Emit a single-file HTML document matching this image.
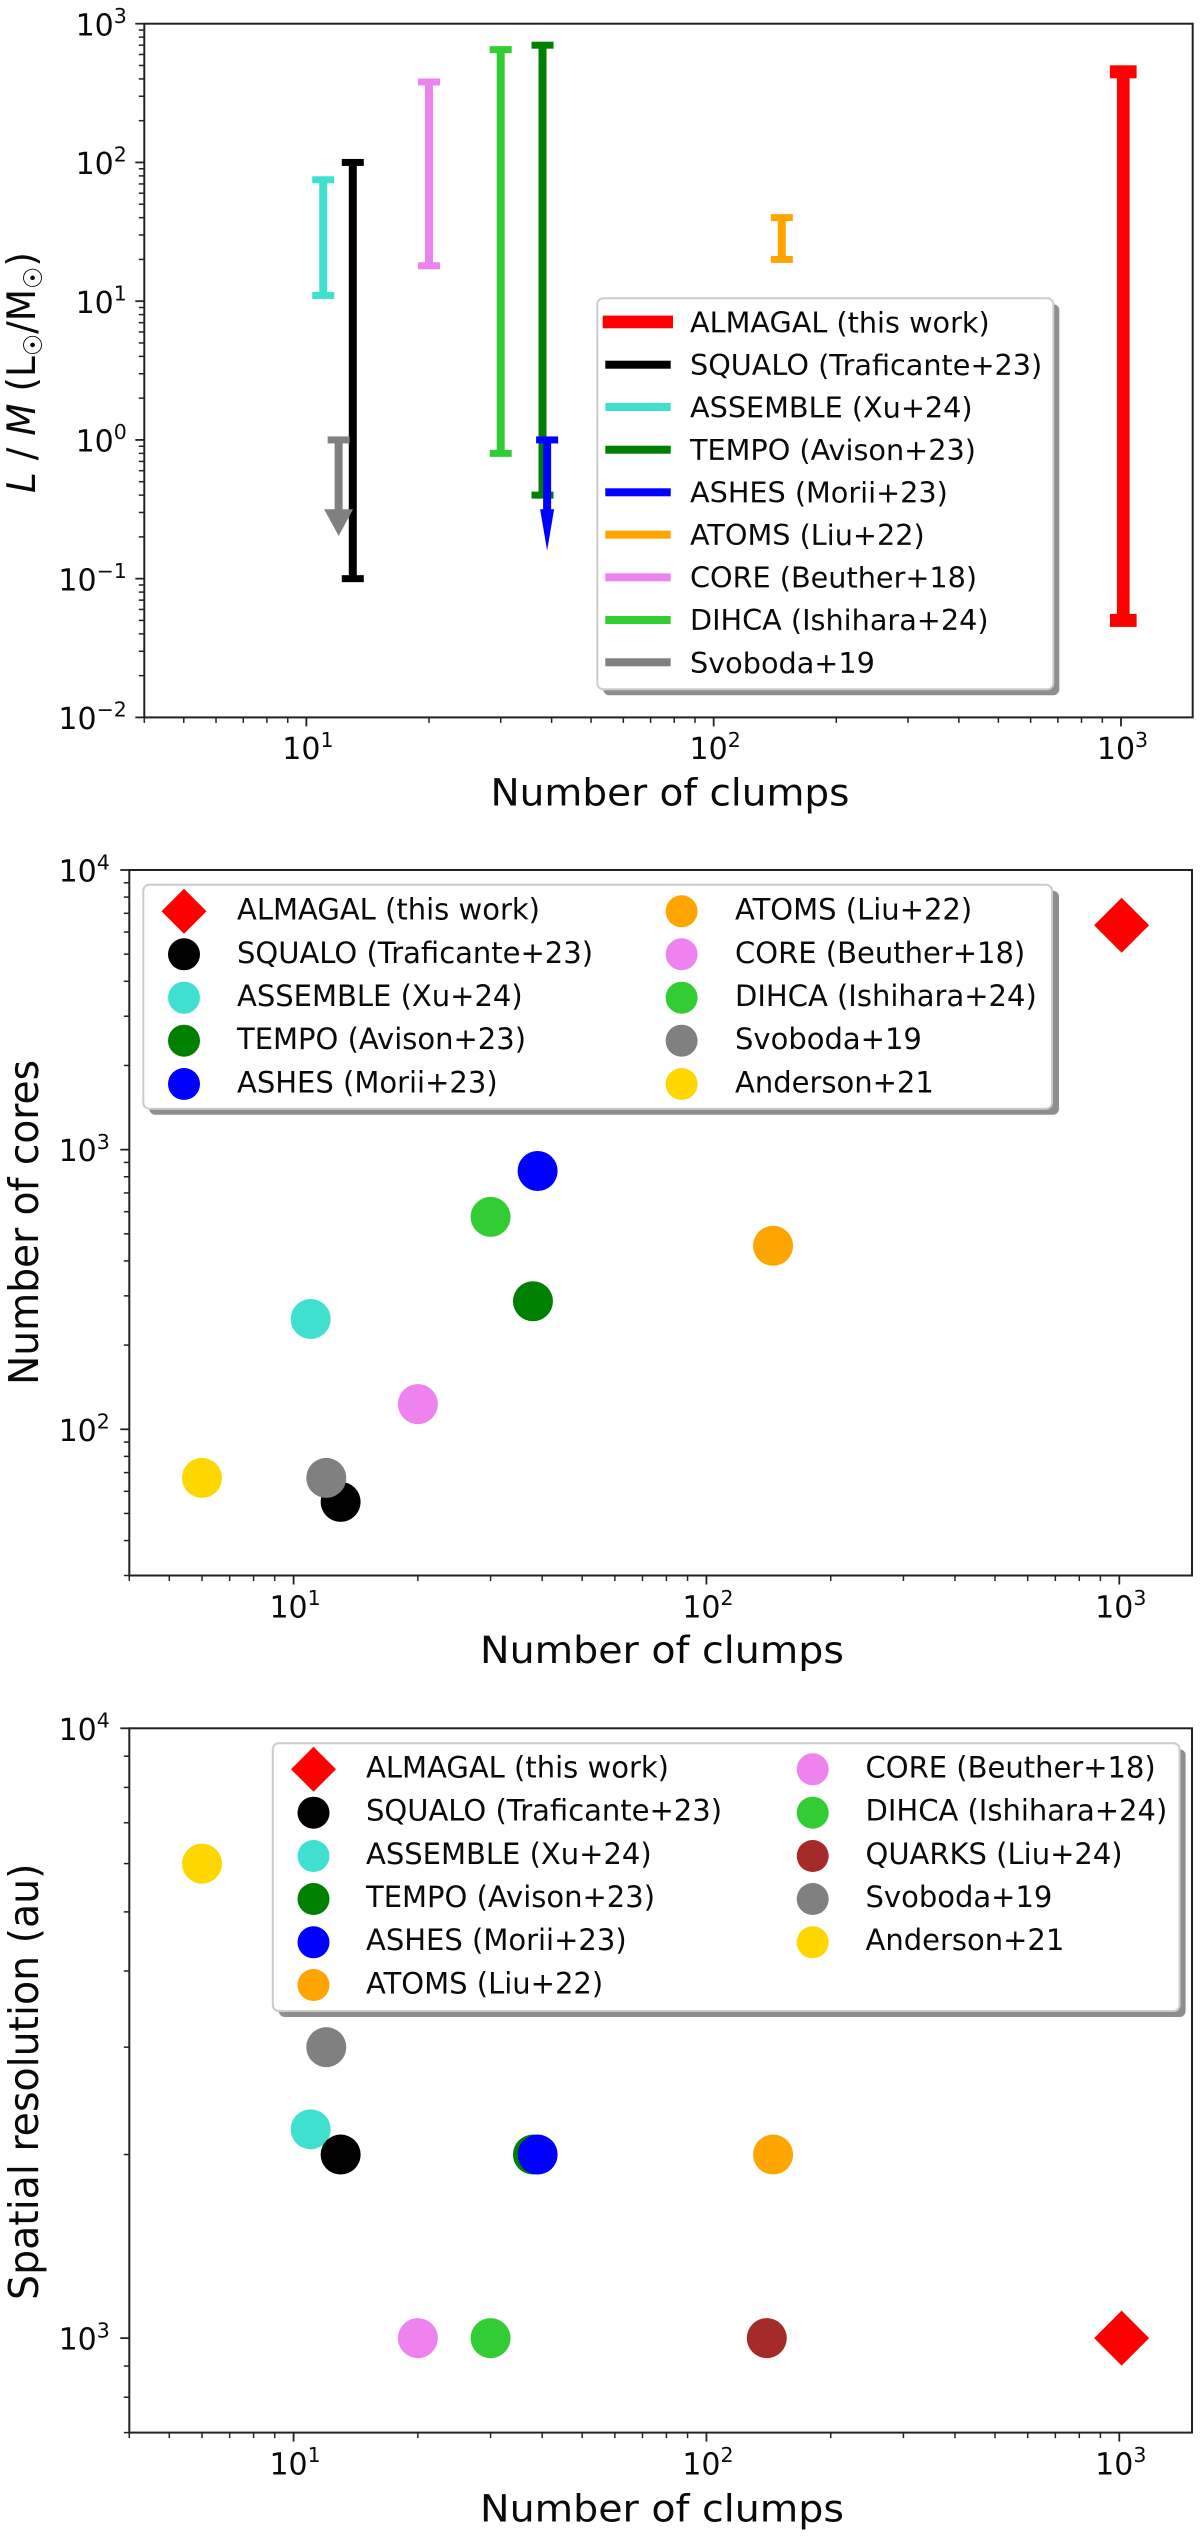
<!DOCTYPE html>
<html lang="en">
<head>
<meta charset="utf-8">
<title>Survey comparison: L/M, number of cores and spatial resolution against number of clumps</title>
<style>
  html, body { margin: 0; padding: 0; background: #ffffff; }
  body { width: 1200px; height: 2538px; overflow: hidden; }
  svg { display: block; filter: blur(0.35px); }
  text { font-family: "DejaVu Sans", "Liberation Sans", sans-serif; fill: #0a0a0a; }
  .lg { font-size: 29px; }
  .frame { fill: none; stroke: #222222; stroke-width: 2; }
  .lg-box { fill: #ffffff; stroke: #cccccc; stroke-width: 2; }
  .lg-shadow { fill: #8e8e8e; }
</style>
</head>
<body>
<svg id="figure" xmlns="http://www.w3.org/2000/svg" width="1200" height="2538" viewBox="0 0 1200 2538">
  <rect x="0" y="0" width="1200" height="2538" fill="#ffffff"/>

  <!-- Panel 1 -->
  <g id="panel-1">
    <g id="p1-axes"></g>
    <g id="p1-marks"></g>
    <rect class="frame" x="144.3" y="23.7" width="1048.4" height="693.7"/>
    <text x="670" y="805.5" font-size="37" text-anchor="middle" textLength="359" lengthAdjust="spacingAndGlyphs">Number of clumps</text>
    <text transform="translate(35 372.5) rotate(-90)" font-size="39" text-anchor="middle" textLength="241" lengthAdjust="spacingAndGlyphs"><tspan font-style="italic">L</tspan> / <tspan font-style="italic">M</tspan> (L<tspan font-size="26" dy="7">☉</tspan><tspan dy="-7">/M</tspan><tspan font-size="26" dy="7">☉</tspan><tspan dy="-7">)</tspan></text>
    <g>
      <rect class="lg-shadow" x="603.3" y="304.3" width="456" height="391" rx="6"/>
      <rect class="lg-box" x="597.3" y="298.3" width="456" height="391" rx="6"/>
      <rect x="602.7" y="315.6" width="70.3" height="12.7" fill="#ff0000"/>
      <rect x="605.3" y="360.7" width="65.4" height="8" fill="#000000"/>
      <rect x="605.3" y="403" width="65.4" height="8" fill="#40e0d0"/>
      <rect x="605.3" y="445.7" width="65.4" height="8" fill="#008000"/>
      <rect x="605.3" y="488.3" width="65.4" height="8" fill="#0000ff"/>
      <rect x="605.3" y="530.7" width="65.4" height="8" fill="#ffa500"/>
      <rect x="605.3" y="573.3" width="65.4" height="8" fill="#ee82ee"/>
      <rect x="605.3" y="616" width="65.4" height="8" fill="#32cd32"/>
      <rect x="605.3" y="658.3" width="65.4" height="8" fill="#808080"/>
      <text class="lg" style="font-size:28.7px" x="690" y="332.3">ALMAGAL (this work)</text>
      <text class="lg" style="font-size:28.7px" x="690" y="374.8">SQUALO (Traficante+23)</text>
      <text class="lg" style="font-size:28.7px" x="690" y="417.3">ASSEMBLE (Xu+24)</text>
      <text class="lg" style="font-size:28.7px" x="690" y="459.8">TEMPO (Avison+23)</text>
      <text class="lg" style="font-size:28.7px" x="690" y="502.3">ASHES (Morii+23)</text>
      <text class="lg" style="font-size:28.7px" x="690" y="544.8">ATOMS (Liu+22)</text>
      <text class="lg" style="font-size:28.7px" x="690" y="587.3">CORE (Beuther+18)</text>
      <text class="lg" style="font-size:28.7px" x="690" y="629.8">DIHCA (Ishihara+24)</text>
      <text class="lg" style="font-size:28.7px" x="690" y="672.8">Svoboda+19</text>
    </g>
  </g>

  <!-- Panel 2 -->
  <g id="panel-2">
    <g id="p2-axes"></g>
    <g id="p2-marks"></g>
    <rect class="frame" x="129.3" y="870" width="1062.7" height="705.5"/>
    <text x="662" y="1663" font-size="37" text-anchor="middle" textLength="364" lengthAdjust="spacingAndGlyphs">Number of clumps</text>
    <text transform="translate(38 1222.5) rotate(-90)" font-size="41" text-anchor="middle" textLength="325" lengthAdjust="spacingAndGlyphs">Number of cores</text>
    <g>
      <rect class="lg-shadow" x="149.3" y="890.7" width="909.7" height="224" rx="6"/>
      <rect class="lg-box" x="143.3" y="884.7" width="908.7" height="224" rx="6"/>
      <polygon points="184,888.8 206.5,911.3 184,933.8 161.5,911.3" fill="#ff0000"/>
      <circle cx="184" cy="954.3" r="16" fill="#000000"/>
      <circle cx="184" cy="997.7" r="16" fill="#40e0d0"/>
      <circle cx="184" cy="1040.7" r="16" fill="#008000"/>
      <circle cx="184" cy="1084" r="16" fill="#0000ff"/>
      <circle cx="681.6" cy="911.3" r="16" fill="#ffa500"/>
      <circle cx="681.6" cy="954.3" r="16" fill="#ee82ee"/>
      <circle cx="681.6" cy="997.7" r="16" fill="#32cd32"/>
      <circle cx="681.6" cy="1040.7" r="16" fill="#808080"/>
      <circle cx="681.6" cy="1084" r="16" fill="#ffd700"/>
      <text class="lg" x="237" y="919.6">ALMAGAL (this work)</text>
      <text class="lg" x="237" y="962.8">SQUALO (Traficante+23)</text>
      <text class="lg" x="237" y="1006">ASSEMBLE (Xu+24)</text>
      <text class="lg" x="237" y="1049.2">TEMPO (Avison+23)</text>
      <text class="lg" x="237" y="1092.4">ASHES (Morii+23)</text>
      <text class="lg" x="735" y="919.6">ATOMS (Liu+22)</text>
      <text class="lg" x="735" y="962.8">CORE (Beuther+18)</text>
      <text class="lg" x="735" y="1006">DIHCA (Ishihara+24)</text>
      <text class="lg" x="735" y="1049.2">Svoboda+19</text>
      <text class="lg" x="735" y="1092.4">Anderson+21</text>
    </g>
  </g>

  <!-- Panel 3 -->
  <g id="panel-3">
    <g id="p3-axes"></g>
    <g id="p3-marks"></g>
    <rect class="frame" x="129.3" y="1728.3" width="1062.7" height="704.3"/>
    <text x="662" y="2521.7" font-size="37" text-anchor="middle" textLength="364" lengthAdjust="spacingAndGlyphs">Number of clumps</text>
    <text transform="translate(38 2081.7) rotate(-90)" font-size="41" text-anchor="middle" textLength="436.5" lengthAdjust="spacingAndGlyphs">Spatial resolution (au)</text>
    <g>
      <rect class="lg-shadow" x="278.8" y="1749.3" width="906.8" height="267.7" rx="6"/>
      <rect class="lg-box" x="272.8" y="1743.3" width="906.8" height="267.7" rx="6"/>
      <polygon points="313.5,1746.8 336,1769.3 313.5,1791.8 291,1769.3" fill="#ff0000"/>
      <circle cx="313.5" cy="1812.7" r="16" fill="#000000"/>
      <circle cx="313.5" cy="1856" r="16" fill="#40e0d0"/>
      <circle cx="313.5" cy="1899" r="16" fill="#008000"/>
      <circle cx="313.5" cy="1942.3" r="16" fill="#0000ff"/>
      <circle cx="313.5" cy="1985" r="16" fill="#ffa500"/>
      <circle cx="812.7" cy="1769.3" r="16" fill="#ee82ee"/>
      <circle cx="812.7" cy="1812.7" r="16" fill="#32cd32"/>
      <circle cx="812.7" cy="1856" r="16" fill="#a52a2a"/>
      <circle cx="812.7" cy="1899" r="16" fill="#808080"/>
      <circle cx="812.7" cy="1942.3" r="16" fill="#ffd700"/>
      <text class="lg" x="366" y="1777.3">ALMAGAL (this work)</text>
      <text class="lg" x="366" y="1820.5">SQUALO (Traficante+23)</text>
      <text class="lg" x="366" y="1863.8">ASSEMBLE (Xu+24)</text>
      <text class="lg" x="366" y="1907">TEMPO (Avison+23)</text>
      <text class="lg" x="366" y="1950.2">ASHES (Morii+23)</text>
      <text class="lg" x="366" y="1993.4">ATOMS (Liu+22)</text>
      <text class="lg" x="865.5" y="1777.3">CORE (Beuther+18)</text>
      <text class="lg" x="865.5" y="1820.5">DIHCA (Ishihara+24)</text>
      <text class="lg" x="865.5" y="1863.8">QUARKS (Liu+24)</text>
      <text class="lg" x="865.5" y="1907">Svoboda+19</text>
      <text class="lg" x="865.5" y="1950.2">Anderson+21</text>
    </g>
  </g>
</svg>

<script>
// ---- Data ----
const lmClumps = [1013, 13, 11, 38, 39, 147, 20, 30, 12];
const lmLow = [0.05, 0.1, 11, 0.4, null, 20, 18, 0.8, null];
const lmHigh = [450, 100, 75, 700, 1, 40, 380, 650, 1];
const lmColors = ['#ff0000', '#000000', '#40e0d0', '#008000', '#0000ff', '#ffa500', '#ee82ee', '#32cd32', '#808080'];

const coresClumps = [1013, 13, 11, 38, 39, 145, 20, 30, 12, 6];
const coresCounts = [6348, 55, 248, 287, 839, 453, 123, 575, 67, 67];
const coresColors = ['#ff0000', '#000000', '#40e0d0', '#008000', '#0000ff', '#ffa500', '#ee82ee', '#32cd32', '#808080', '#ffd700'];

const resClumps = [1013, 11, 13, 38, 39, 145, 20, 30, 140, 12, 6];
const resValues = [1000, 2200, 2000, 2000, 2000, 2000, 1000, 1000, 1000, 3000, 6000];
const resColors = ['#ff0000', '#40e0d0', '#000000', '#008000', '#0000ff', '#ffa500', '#ee82ee', '#32cd32', '#a52a2a', '#808080', '#ffd700'];

const xLimits = [4, 1500];
const xTickExponents = [1, 2, 3];
const xTickLabels = ['1', '2', '3'];
const minorMultipliers = [2, 3, 4, 5, 6, 7, 8, 9];

const lmYLimits = [0.01, 1000];
const lmYTickExponents = [-2, -1, 0, 1, 2, 3];
const lmYTickLabels = ['\u22122', '\u22121', '0', '1', '2', '3'];

const coresYLimits = [30, 10000];
const coresYTickExponents = [2, 3, 4];
const coresYTickLabels = ['2', '3', '4'];

const resYLimits = [700, 10000];
const resYTickExponents = [3, 4];
const resYTickLabels = ['3', '4'];

// ---- Helpers ----
const SVGNS = 'http://www.w3.org/2000/svg';
function mk(tag, attrs, parent) {
  const el = document.createElementNS(SVGNS, tag);
  for (const k in attrs) el.setAttribute(k, attrs[k]);
  parent.appendChild(el);
  return el;
}
function logScale(limits, a, b) {
  const lo = Math.log10(limits[0]), hi = Math.log10(limits[1]);
  return v => a + (Math.log10(v) - lo) / (hi - lo) * (b - a);
}
function minorValues(limits) {
  const out = [];
  for (let e = Math.floor(Math.log10(limits[0])) - 1; e <= Math.ceil(Math.log10(limits[1])); e++) {
    for (const m of minorMultipliers) {
      const v = m * Math.pow(10, e);
      if (v >= limits[0] * 0.999 && v <= limits[1] * 1.001) out.push(v);
    }
  }
  return out;
}

function drawAxes(group, box, x, y, yLimits, yExps, yLabels, labelGap) {
  for (const v of minorValues(xLimits)) {
    const t = mk('line', { x1: x(v), x2: x(v), y1: box.b, y2: box.b + 5.5, stroke: '#222222', 'stroke-width': 1.5 }, group);
    
    
  }
  for (const v of minorValues(yLimits)) {
    const t = mk('line', { x1: box.l - 5.5, x2: box.l, y1: y(v), y2: y(v), stroke: '#222222', 'stroke-width': 1.5 }, group);
    
    
  }
  xTickExponents.forEach((e, i) => {
    const px = x(Math.pow(10, e));
    const t = mk('line', { x1: px, x2: px, y1: box.b, y2: box.b + 9, stroke: '#222222', 'stroke-width': 1.8 }, group);
    
    
    const label = mk('text', { x: px + 1.5, y: box.b + 41.8, 'font-size': 30, 'text-anchor': 'middle' }, group);
    
    
    label.appendChild(document.createTextNode('10'));
    const sup = mk('tspan', { 'font-size': 20.5, dy: -12.3 }, label);
    sup.textContent = xTickLabels[i];
  });
  yExps.forEach((e, i) => {
    const py = y(Math.pow(10, e));
    const t = mk('line', { x1: box.l - 9, x2: box.l, y1: py, y2: py, stroke: '#222222', 'stroke-width': 1.8 }, group);
    
    
    const label = mk('text', { x: box.l - labelGap, y: py + 11.6, 'font-size': 30, 'text-anchor': 'end' }, group);
    
    
    label.appendChild(document.createTextNode('10'));
    const sup = mk('tspan', { 'font-size': 20.5, dy: -12.3 }, label);
    sup.textContent = yLabels[i];
  });
}

function drawPoints(group, x, y, xs, ys, colors) {
  xs.forEach((cx, i) => {
    const px = x(cx), py = y(ys[i]);
    if (i === 0) {
      const d = mk('polygon', {
        points: [[px, py - 27.5], [px + 27.5, py], [px, py + 27.5], [px - 27.5, py]].map(p => p.join(',')).join(' '),
        fill: colors[i]
      }, group);
      
      
    } else {
      const c = mk('circle', { cx: px, cy: py, r: 20, fill: colors[i] }, group);
      
      
    }
  });
}

// ---- Panel 1: L/M ranges ----
const box1 = { l: 144.3, r: 1192.7, t: 23.7, b: 717.4 };
const x1 = logScale(xLimits, box1.l, box1.r);
const y1 = logScale(lmYLimits, box1.b, box1.t);
drawAxes(document.getElementById('p1-axes'), box1, x1, y1, lmYLimits, lmYTickExponents, lmYTickLabels, 17.5);

const p1 = document.getElementById('p1-marks');
lmClumps.forEach((c, i) => {
  const px = x1(c);
  const isMain = i === 0;
  const lw = isMain ? 12.7 : 8;
  const capW = isMain ? 26.7 : 22;
  const capH = isMain ? 13 : 7;
  const color = lmColors[i];
  const top = y1(lmHigh[i]);
  if (lmLow[i] !== null) {
    const bottom = y1(lmLow[i]);
    const stem = mk('line', { x1: px, x2: px, y1: top, y2: bottom, stroke: color, 'stroke-width': lw }, p1);
    
    
    const capLow = mk('rect', { x: px - capW / 2, y: bottom - capH / 2, width: capW, height: capH, fill: color }, p1);
    
    
  } else {
    const wide = i === lmClumps.length - 1;
    const headBase = top + 69.3;
    const tip = top + (wide ? 96 : 110.7);
    const half = wide ? 14.5 : 7;
    const stem = mk('line', { x1: px, x2: px, y1: top, y2: headBase + 1, stroke: color, 'stroke-width': lw }, p1);
    
    
    const head = mk('polygon', { points: (px - half) + ',' + headBase + ' ' + (px + half) + ',' + headBase + ' ' + px + ',' + tip, fill: color }, p1);
    
    
  }
  const capHigh = mk('rect', { x: px - capW / 2, y: top - capH / 2, width: capW, height: capH, fill: color }, p1);
  
  
});

// ---- Panel 2: number of cores ----
const box2 = { l: 129.3, r: 1192, t: 870, b: 1575.5 };
const x2 = logScale(xLimits, box2.l, box2.r);
const y2 = logScale(coresYLimits, box2.b, box2.t);
drawAxes(document.getElementById('p2-axes'), box2, x2, y2, coresYLimits, coresYTickExponents, coresYTickLabels, 19.5);
drawPoints(document.getElementById('p2-marks'), x2, y2, coresClumps, coresCounts, coresColors);

// ---- Panel 3: spatial resolution ----
const box3 = { l: 129.3, r: 1192, t: 1728.3, b: 2432.6 };
const x3 = logScale(xLimits, box3.l, box3.r);
const y3 = logScale(resYLimits, box3.b, box3.t);
drawAxes(document.getElementById('p3-axes'), box3, x3, y3, resYLimits, resYTickExponents, resYTickLabels, 19.5);
drawPoints(document.getElementById('p3-marks'), x3, y3, resClumps, resValues, resColors);
</script>
</body>
</html>
